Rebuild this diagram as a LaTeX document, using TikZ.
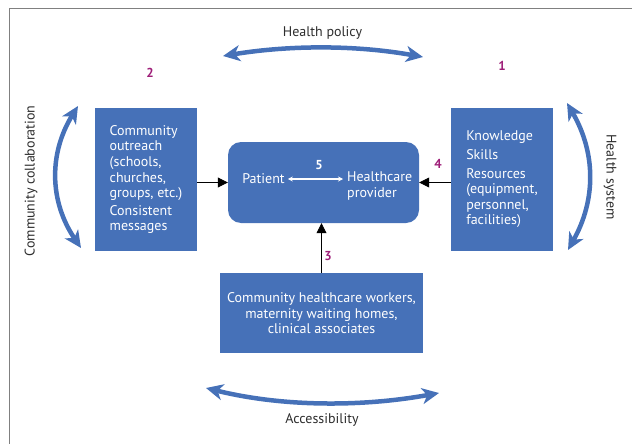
\documentclass[tikz,border=0pt]{standalone}
\usepackage{fontspec}
\setmainfont{PT Sans}
\usetikzlibrary{arrows.meta}
\usetikzlibrary{positioning}
\definecolor{boxblue}{RGB}{70,113,184}
\definecolor{numpurple}{RGB}{158,30,120}
\definecolor{labelgray}{RGB}{45,45,45}

\begin{document}
\begin{tikzpicture}[x=1pt,y=-1pt,
            box node/.style={fill=boxblue,text=white,inner sep=0pt,font=\fontsize{14}{15.6}\selectfont},
            side node/.style={box node,minimum width=102pt,minimum height=143pt,align=left},
            hub node/.style={box node,rounded corners=13pt,minimum width=191pt,minimum height=81pt},
            in node/.style={text=white,inner sep=0pt,font=\fontsize{14}{15.6}\selectfont},
            num node/.style={text=numpurple,inner sep=0pt,font=\bfseries\fontsize{13}{15}\selectfont},
            lab node/.style={text=labelgray,inner sep=0pt,font=\fontsize{14}{15.6}\selectfont},
            link/.style={draw=black,line width=0.8pt,-{Triangle[length=10pt,width=10pt]}},
            swing/.style={draw=boxblue,line width=4.5pt,{Stealth[length=17pt,width=16pt,inset=5pt]}-{Stealth[length=17pt,width=16pt,inset=5pt]}}
            ]

            \useasboundingbox (0,0) rectangle (632,444);
            \draw[gray,line width=0.8pt] (9,444) -- (9,8) -- (632,8);

            % the three blocks round the centre
            \node[hub node](hub) at (323.5,182.5){};
            \node[side node](comm) at (146,179.5){Community\\outreach\\(schools,\\churches,\\groups, etc.)\\[2pt]Consistent\\messages};
            \node[side node](know) at (502,179.5){Knowledge\\[3pt]Skills\\[3pt]Resources\\(equipment,\\personnel,\\facilities)};
            \node[box node,minimum width=203pt,minimum height=80pt,align=center](work)[below=50pt of hub,xshift=-2pt]{Community healthcare workers,\\maternity waiting homes,\\clinical associates};

            % inside the centre block
            \node[in node](pat) at (263.5,179){Patient};
            \node[in node,anchor=west,align=left](prov) at (347,186){Healthcare\\provider};
            \node[in node,font=\bfseries\fontsize{13}{15}\selectfont](five) at (319,165){5};
            \draw[white,line width=1.8pt,{Stealth[length=5pt,width=5pt]}-{Stealth[length=5pt,width=5pt]},shorten <=3pt,shorten >=4pt]
                (pat.east) -- (pat.east -| prov.west);

            % numbers
            \node[num node](n1) at (502,66){1};
            \node[num node](n2) at (150,73){2};
            \node[num node](n3) at (328,256){3};
            \node[num node](n4) at (438,164){4};

            \path
            (hub.west -| comm.east) edge[link] (hub.west)
            (hub.east -| know.west) edge[link] (hub.east)
            (work.north) edge[link] (work.north |- hub.south);

            % outer labels and curved arrows
            \node[lab node](policy) at (322.5,33){Health policy};
            \node[lab node](access) at (322,420){Accessibility};
            \node[lab node,rotate=90](collab) at (31,181){Community collaboration};
            \node[lab node,rotate=-90](system) at (610,177){Health system};

            \coordinate (p1) at (223,56);
            \coordinate (p2) at (423,57);
            \coordinate (c1) at (78,106);
            \coordinate (c2) at (81,248);
            \coordinate (s1) at (567,103);
            \coordinate (s2) at (568,250);
            \coordinate (a1) at (206,388);
            \coordinate (a2) at (439,393);

            \draw[swing] (p1) .. controls (290,45) and (356,45) .. (p2);
            \draw[swing] (c1) .. controls (49,153) and (49,201) .. (c2);
            \draw[swing] (s1) .. controls (596,153) and (596,200) .. (s2);
            \draw[swing] (a1) .. controls (283,407) and (362,407) .. (a2);

        \end{tikzpicture}
\end{document}
